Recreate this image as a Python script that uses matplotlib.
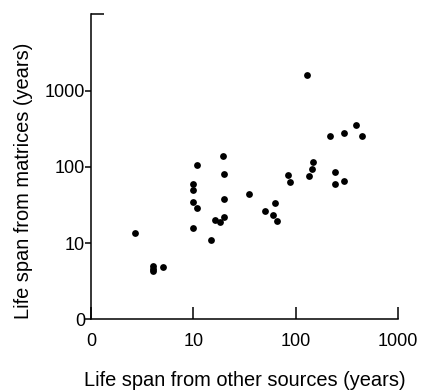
import matplotlib.pyplot as plt
from matplotlib.ticker import NullLocator, FixedLocator, NullFormatter

plt.rcParams['font.family'] = ['Liberation Sans', 'DejaVu Sans']

# life span estimates (years): other sources vs. matrices
other_sources = [2.7, 4.0, 4.0, 4.0, 5.0, 9.95, 9.95, 9.95, 9.95, 10.8, 10.8,
                 14.9, 16.3, 18.4, 19.4, 20.0, 20.0, 20.0, 34.9, 50.3, 60.3,
                 63.1, 66.0, 85.2, 88.4, 130.7, 136.7, 145, 149.6, 219, 244,
                 244, 298, 298, 394, 444]
from_matrices = [13.5, 5.05, 4.6, 4.3, 4.9, 59.3, 49, 34.4, 15.9, 105, 28.5,
                 10.9, 20.2, 19.0, 138, 80, 37.7, 21.9, 44.3, 26.0, 23.0,
                 33.1, 19.4, 77.8, 62.3, 1588, 74.7, 92.3, 115, 250, 86,
                 59.9, 276, 64.3, 351, 250]

tick_vals = [1, 10, 100, 1000]
tick_labels = ['0', '10', '100', '1000']

fig = plt.figure(figsize=(4.21, 3.91), dpi=100)
ax = fig.add_axes([0.2169, 0.1834, 0.7278, 0.78])

ax.scatter(other_sources, from_matrices, s=24, color='black', linewidths=0, zorder=3)

ax.set_xscale('log')
ax.set_yscale('log')
ax.set_xlim(1, 1000)
ax.set_ylim(1, 10000)

ax.spines['top'].set_visible(False)
ax.spines['right'].set_visible(False)
for s in ['left', 'bottom']:
    ax.spines[s].set_linewidth(1.1)

ax.set_xticks(tick_vals)
ax.set_xticklabels(tick_labels)
ax.set_yticks(tick_vals)
ax.set_yticklabels(tick_labels)
ax.xaxis.set_minor_locator(NullLocator())
# short cap at the top of the y axis
ax.yaxis.set_minor_locator(FixedLocator([10000]))
ax.yaxis.set_minor_formatter(NullFormatter())

ax.tick_params(axis='x', which='major', direction='in', length=9, width=1.1,
               pad=10, labelsize=13)
ax.tick_params(axis='y', which='major', direction='out', length=4, width=1.1,
               pad=0.5, labelsize=13)
ax.tick_params(axis='y', which='minor', direction='in', length=9, width=1.1)

ax.set_xlabel('Life span from other sources (years)', fontsize=14.4)
ax.set_ylabel('Life span from matrices (years)', fontsize=14.4)
ax.xaxis.set_label_coords(0.5, -0.17)
ax.yaxis.set_label_coords(-0.19, 0.453)

fig.savefig('out.png', dpi=100)
